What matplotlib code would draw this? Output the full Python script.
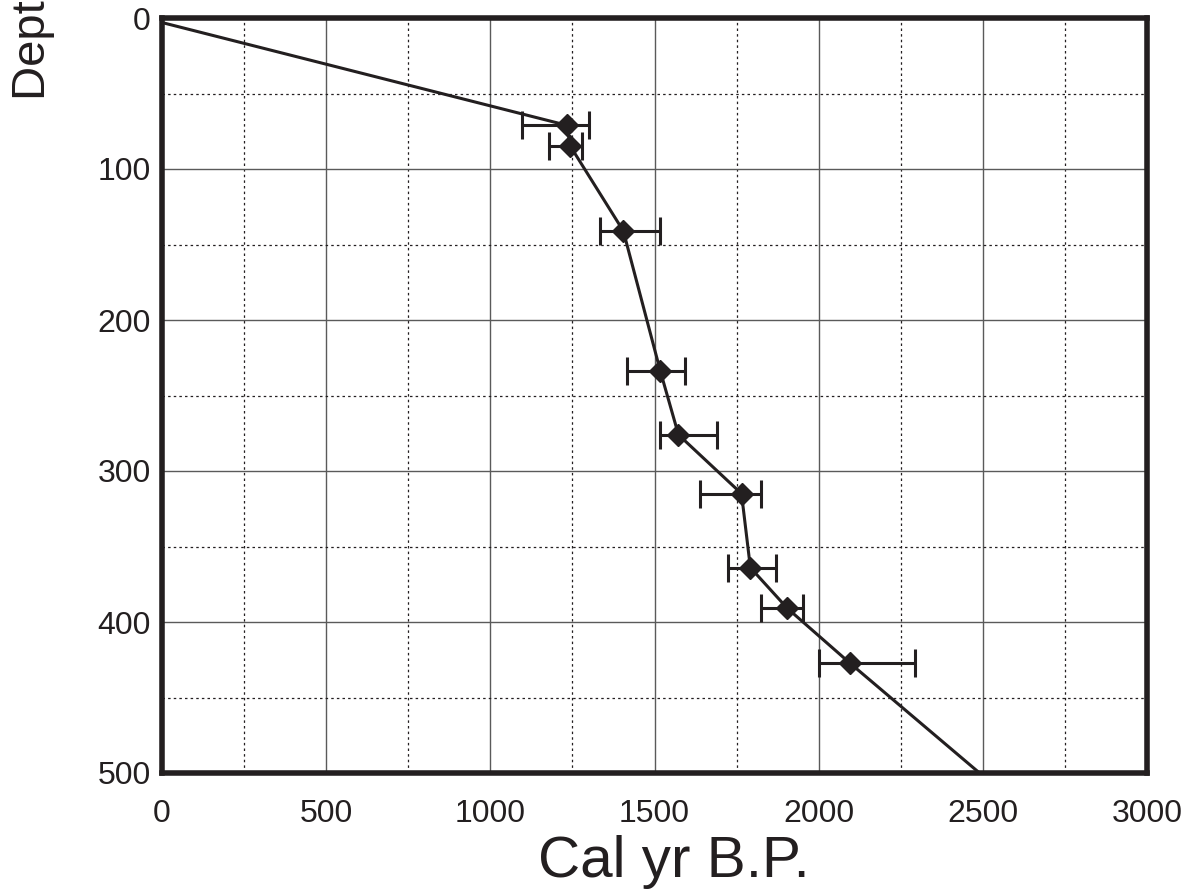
import matplotlib
matplotlib.use("Agg")
import matplotlib.pyplot as plt
from matplotlib.ticker import MultipleLocator

plt.rcParams['font.family'] = ['Liberation Sans', 'DejaVu Sans']

# Dated samples: calibrated age (cal yr B.P.), depth (cm), 2-sigma range
ages = [1232, 1244, 1405, 1518, 1573, 1765, 1792, 1905, 2094]
depths = [71, 85, 141, 234, 276, 315, 364, 391, 427]
age_lo = [1095, 1180, 1335, 1415, 1518, 1640, 1723, 1823, 2000]
age_hi = [1300, 1280, 1518, 1594, 1690, 1823, 1870, 1951, 2293]

# Age-depth model line (surface -> dated points -> base)
model_age = [0] + ages + [2490]
model_depth = [3] + depths + [500]

xticks = [0, 500, 1000, 1500, 2000, 2500, 3000]
yticks = [0, 100, 200, 300, 400, 500]

ink = '#231f20'

fig = plt.figure(figsize=(11.86, 8.92), dpi=100)
ax = fig.add_axes([162/1186, 1-773/892, (1147-162)/1186, (773-18)/892])

ax.set_xlim(0, 3000)
ax.set_ylim(500, 0)
ax.set_xticks(xticks)
ax.set_yticks(yticks)
ax.xaxis.set_minor_locator(MultipleLocator(250))
ax.yaxis.set_minor_locator(MultipleLocator(50))
ax.grid(which='major', color='#5a5a5a', linewidth=1.0, linestyle='-')
ax.grid(which='minor', color='#231f20', linewidth=0.9, linestyle=(0, (2, 2.5)))
ax.set_axisbelow(True)

ax.plot(model_age, model_depth, color=ink, linewidth=2.2, zorder=3)
xerr = [[a - l for a, l in zip(ages, age_lo)], [h - a for a, h in zip(ages, age_hi)]]
ax.errorbar(ages, depths, xerr=xerr, fmt='D', color=ink, markersize=11,
            elinewidth=2.2, capsize=10, capthick=2.2, zorder=4)

for s in ax.spines.values():
    s.set_linewidth(4)
    s.set_color(ink)

ax.tick_params(which='both', length=0)
ax.tick_params(axis='x', labelsize=23, pad=19, colors=ink)
ax.tick_params(axis='y', labelsize=23, pad=8, colors=ink)

ax.set_xlabel('Cal yr B.P.', fontsize=42, color=ink)
ax.xaxis.set_label_coords(0.52, -0.082)
fig.text(33/1186, 1-100/892, 'Depth (cm)', rotation=90, ha='center', va='bottom',
         fontsize=34, color=ink)

fig.savefig('out.png', dpi=100)
